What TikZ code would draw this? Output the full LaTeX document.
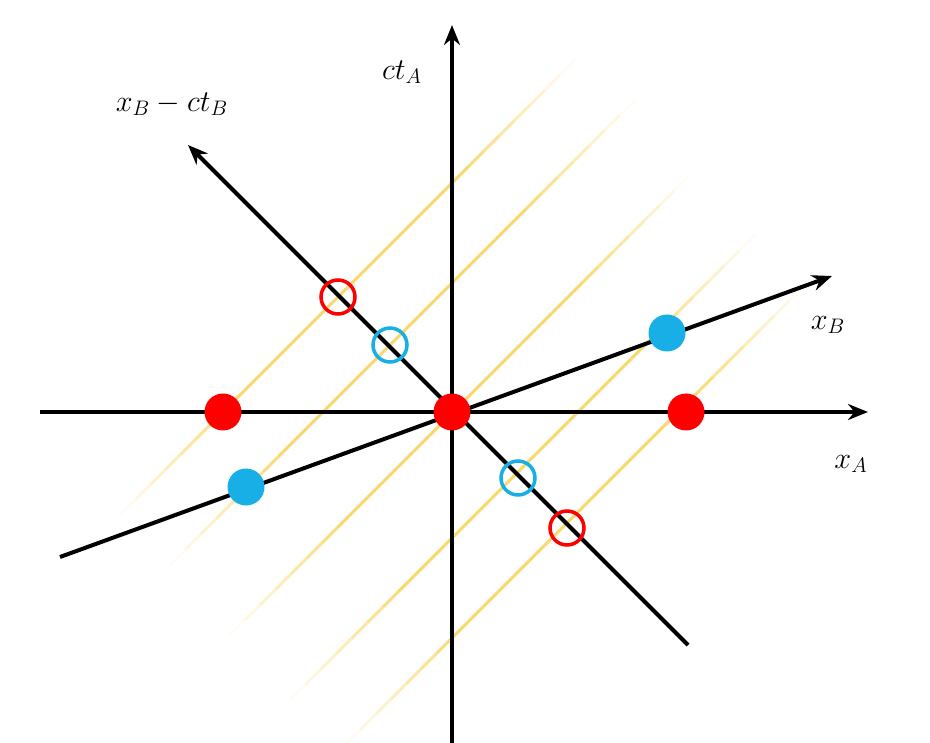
\documentclass[tikz,border=0pt]{standalone}
\usetikzlibrary{calc,arrows.meta}
\definecolor{yel}{HTML}{F8D96E}
\definecolor{bl}{HTML}{18AEE6}
\definecolor{rd}{HTML}{FF0000}
\tikzset{axis/.style={line width=4pt,-{Stealth[length=20pt,width=16pt]}},
 fulldot/.style={circle,fill=#1,minimum size=37pt,inner sep=0pt},
 opendot/.style={circle,draw=#1,line width=3.5pt,minimum size=34pt,inner sep=0pt},
 lab/.style={inner sep=0pt}}
\newcommand{\biglab}[1]{\scalebox{1.75}{\LARGE $#1$}}
\newcommand{\fadeseg}[2]{%
 \foreach \i in {0,...,29}{%
  \pgfmathsetmacro{\ta}{\i/30}\pgfmathsetmacro{\tb}{(\i+1)/30}%
  \pgfmathsetmacro{\tm}{(\i+0.5)/30}%
  \pgfmathsetmacro{\op}{min(1,4*min(\tm,1-\tm))}%
  \draw[yel,line width=3pt,opacity=\op] ($(#1)!\ta!(#2)$) -- ($(#1)!\tb!(#2)$);}}
\begin{document}
\begin{tikzpicture}[x=1pt,y=-1pt]
\useasboundingbox (0,0) rectangle (930,743);
\coordinate (a1) at (120,515); \coordinate (b1) at (575,60);
\coordinate (a2) at (170,565); \coordinate (b2) at (635,100);
\coordinate (a3) at (230,635); \coordinate (b3) at (690,175);
\coordinate (a4) at (290,700); \coordinate (b4) at (755,235);
\coordinate (a5) at (345,745); \coordinate (b5) at (805,285);
\foreach \k in {1,...,5}{\fadeseg{a\k}{b\k}}
\coordinate (xl) at (40,412); \coordinate (xr) at (868,412);
\coordinate (tb) at (452,743); \coordinate (tt) at (452,25);
\coordinate (bl) at (60,557); \coordinate (br) at (832,276);
\coordinate (dl) at (688,645); \coordinate (du) at (188,145);
\draw[axis] (xl) -- (xr);
\draw[axis] (tb) -- (tt);
\draw[axis] (bl) -- (br);
\draw[axis] (dl) -- (du);
\node[fulldot=rd] (r1) at (223,412) {};
\node[fulldot=rd] (r0) at (452,412) {};
\node[fulldot=rd] (r2) at (686,412) {};
\node[fulldot=bl] (c1) at (246,487) {};
\node[fulldot=bl] (c2) at (667,333) {};
\node[opendot=rd] (o1) at (338,297) {};
\node[opendot=rd] (o2) at (567,528) {};
\node[opendot=bl] (o3) at (390,345) {};
\node[opendot=bl] (o4) at (518,478) {};
\node[lab] (lt) at (402,72) {\biglab{ct_A}};
\node[lab] (ld) at (172,104) {\biglab{x_B - ct_B}};
\node[lab] (lb) at (828,325) {\biglab{x_B}};
\node[lab] (la) at (851,464) {\biglab{x_A}};
\end{tikzpicture}
\end{document}
